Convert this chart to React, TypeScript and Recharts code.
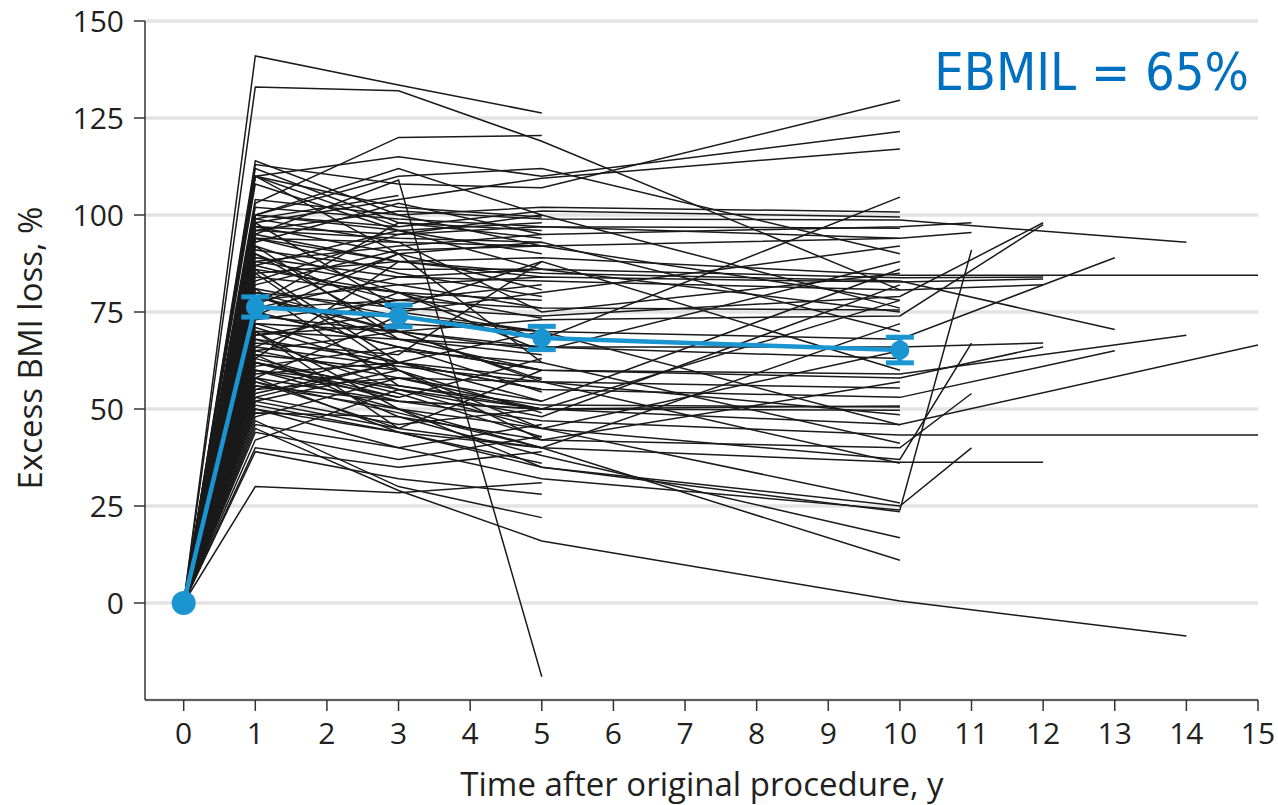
import React from 'react';
import { LineChart, Line, XAxis, YAxis, CartesianGrid, ErrorBar } from 'recharts';

const _ = null;

// follow-up years (year 0 = baseline, 0% for everyone)
const years = [0, 1, 3, 5, 10, 11, 12, 13, 14, 15];
const xTicks = [0, 1, 2, 3, 4, 5, 6, 7, 8, 9, 10, 11, 12, 13, 14, 15];
const yTicks = [0, 25, 50, 75, 100, 125, 150];

// patients followed to 10 y or longer: values at years 1, 3, 5, 10, 11, 12, 13, 14, 15
const followedTo10Plus: (number | null)[][] = [
  [113, 108, 107, 129.6],
  [110, 115, 110, 121.5],
  [98, 104, 109.5, 117],
  [133, 132, 119, 80.7],
  [92, 80, 68, 104.6],
  [104, 100, 102, 100.8],
  [100, 97, 101, 99.5],
  [96, 101, 99, 98.7, _, _, _, 93],
  [102, 99, 97, 96.6],
  [97, 95, 97, 94],
  [88, 92, 95, 97, 98],
  [94, 93, 92, 94, 95.5],
  [86, 80, 65, 88],
  [99, 93, 75, 85],
  [85, 88, 89, 84.5, _, _, _, _, 84.5],
  [91, 86, 86, 83.8, _, 84],
  [78, 82, 84, 82.7, _, 83.5],
  [95, 88, 85, 83, _, _, 70.5],
  [89, 84, 83, 80.7, _, 82],
  [114, 100, 92, 78],
  [83, 95, 100, 76],
  [108, 96, 86, 75],
  [76, 78, 76, 75.5],
  [80, 76, 74, 79, _, 98],
  [72, 70, 73, 74, _, 97.5],
  [81, 74, 70, 68, _, _, 89],
  [70, 68, 66, 66, _, 67],
  [74, 70, 66, 63],
  [67, 64, 88, 60],
  [79, 68, 60, 59, _, _, _, 69],
  [64, 60, 42, 57],
  [75, 66, 60, 58, _, 66],
  [66, 61, 57, 55.4],
  [72, 62, 55, 53, _, _, 65],
  [60, 56, 51, 50.5],
  [58, 52, 50, 49.7],
  [90, 70, 57, 48.5],
  [56, 52, 50, 46, _, _, _, _, 66.5],
  [53, 62, 70, 45.9],
  [62, 52, 47, 43.3, _, _, _, _, 43.3],
  [55, 65, 62, 41.2],
  [49, 48, 42, 40, 54],
  [68, 55, 45, 37, 67],
  [52, 45, 40, 36.3, _, 36.3],
  [48, 58, 57, 36],
  [85, 60, 45, 25.8],
  [46, 40, 32, 24, 91],
  [58, 44, 35, 25, 40],
  [70, 50, 35, 23.5],
  [64, 48, 38, 16.8],
  [60, 50, 40, 11],
  [45, 29, 16, 0.5, _, _, _, -8.5],
  [100, 110, 112, 90],
  [56, 50, 45, 65],
  [77, 90, 93, 70],
  [62, 55, 50, 78],
  [50, 44, 40, 72],
  [54, 62, 52, 86],
  [42, 55, 48, 82],
  [69, 75, 80, 92],
  [65, 58, 50, 50.8],
];

// patients followed to 5 y: values at years 1, 3, 5
const followedTo5: number[][] = [
  [141, 133.5, 126.3],
  [103, 120, 120.5],
  [95, 109, -19],
  [110, 102, 99.5],
  [112, 98, 94],
  [100, 96, 90],
  [97, 90, 80.7],
  [94, 85, 79],
  [88, 82, 76],
  [84, 80, 73.4],
  [110, 90, 62],
  [79, 70, 57.5],
  [75, 66, 54.4],
  [71, 60, 49],
  [63, 54, 42.8],
  [57, 49, 40],
  [51, 44, 36],
  [30, 28.4, 31],
  [47, 30, 22],
  [98, 76, 88],
  [93, 103, 95],
  [87, 96, 98],
  [82, 91, 92],
  [76, 84, 86],
  [73, 78, 82],
  [69, 72, 70],
  [65, 70, 65],
  [61, 66, 60],
  [59, 62, 55],
  [55, 58, 52],
  [53, 46, 50],
  [50, 40, 46],
  [44, 37, 43],
  [40, 35, 39],
  [39, 32, 28],
  [100, 112, 100],
  [96, 94, 93],
  [90, 75, 70],
  [86, 62, 58],
  [81, 56, 50],
  [66, 80, 78],
  [63, 88, 84],
  [58, 74, 68],
  [92, 68, 64],
  [77, 98, 96],
  [62, 53, 63],
  [70, 45, 60],
];

// patients followed to 3 y: values at years 1, 3
const followedTo3: number[][] = [
  [99, 105],
  [94, 88],
  [87, 78],
  [80, 70],
  [74, 90],
  [68, 62],
  [60, 53],
  [57, 45],
  [52, 60],
  [110, 97],
];

// mean EBMIL with error bars
const meanYears = [0, 1, 3, 5, 10];
const meanValues = [0, 76.3, 74, 68.3, 65.2];
const meanErrors: (number | null)[] = [null, 2.6, 2.8, 3, 3.3];

const BLUE = '#1b95d2';
const FONT = "'Open Sans', 'Noto Sans', sans-serif";

function toPoints(row: (number | null)[]) {
  const pts: { t: number; v: number }[] = [{ t: years[0], v: 0 }];
  row.forEach((v, i) => {
    if (v !== null && v !== undefined) pts.push({ t: years[i + 1], v });
  });
  return pts;
}

const patientSeries = [...followedTo10Plus, ...followedTo5, ...followedTo3].map(toPoints);

const meanData = meanYears.map((t, i) => ({ t, v: meanValues[i], e: meanErrors[i] }));

const renderMeanDot = (props: any) => {
  const { cx, cy, index } = props;
  return <circle key={`md-${index}`} cx={cx} cy={cy} r={index === 0 ? 12 : 9.5} fill={BLUE} />;
};

export default function App() {
  return (
    <div style={{ position: 'absolute', left: 0, top: 0, width: 1278, height: 805, background: '#fff' }}>
      <LineChart width={1278} height={805} margin={{ top: 21, right: 20, bottom: 0, left: 0 }}>
        <CartesianGrid vertical={false} stroke="#e3e3e3" strokeWidth={3.5} />
        <XAxis
          type="number"
          dataKey="t"
          domain={[-0.54, 15]}
          ticks={xTicks}
          interval={0}
          allowDataOverflow
          height={105}
          tickSize={11}
          tickMargin={12}
          axisLine={{ stroke: '#333', strokeWidth: 1.5 }}
          tickLine={{ stroke: '#333', strokeWidth: 1.5 }}
          tick={{ fill: '#231f20', fontSize: 30, fontFamily: FONT }}
        />
        <YAxis
          type="number"
          domain={[-25, 150]}
          ticks={yTicks}
          interval={0}
          allowDataOverflow
          width={145}
          tickSize={11}
          tickMargin={10}
          axisLine={{ stroke: '#333', strokeWidth: 1.5 }}
          tickLine={{ stroke: '#333', strokeWidth: 1.5 }}
          tick={{ fill: '#231f20', fontSize: 30, fontFamily: FONT }}
        />
        {patientSeries.map((pts, i) => (
          <Line
            key={`p-${i}`}
            data={pts}
            dataKey="v"
            type="linear"
            stroke="#1a1a1a"
            strokeWidth={1.5}
            dot={false}
            activeDot={false}
            isAnimationActive={false}
          />
        ))}
        <Line
          data={meanData}
          dataKey="v"
          type="linear"
          stroke={BLUE}
          strokeWidth={4.5}
          dot={renderMeanDot}
          activeDot={false}
          isAnimationActive={false}
        >
          <ErrorBar dataKey="e" width={14} strokeWidth={5} stroke={BLUE} direction="y" />
        </Line>
      </LineChart>
      <svg
        width={1278}
        height={805}
        style={{ position: 'absolute', left: 0, top: 0, pointerEvents: 'none' }}
      >
        <text x={702} y={796} textAnchor="middle" fontSize={33} fontFamily={FONT} fill="#231f20">
          Time after original procedure, y
        </text>
        <text
          x={42}
          y={348}
          textAnchor="middle"
          fontSize={33}
          fontFamily={FONT}
          fill="#231f20"
          transform="rotate(-90 42 348)"
        >
          Excess BMI loss, %
        </text>
        <text
          x={1249}
          y={90}
          textAnchor="end"
          fontSize={52}
          fontFamily="'DejaVu Sans Condensed', 'DejaVu Sans', sans-serif"
          fill="#0070c0"
        >
          EBMIL = 65%
        </text>
      </svg>
    </div>
  );
}
